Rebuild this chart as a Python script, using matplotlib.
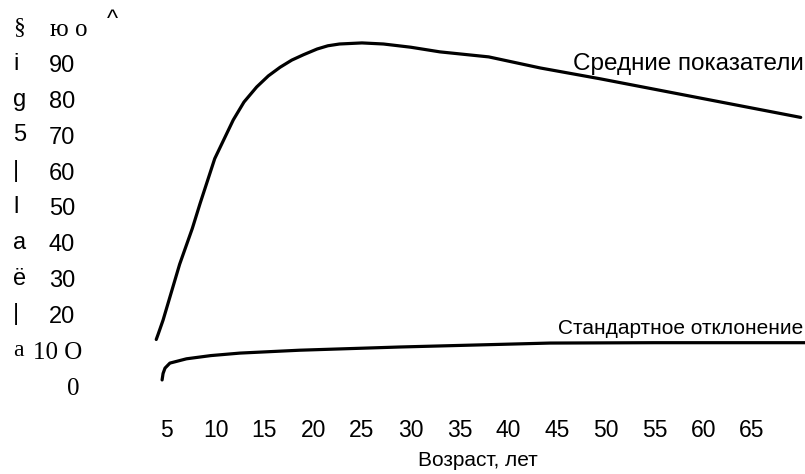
import matplotlib.pyplot as plt
import matplotlib.transforms as mtransforms

# data
mean_age = [3.9, 4.1, 4.6, 6.3, 7.6, 8.4, 9.9, 11.8, 12.9, 14.2, 15.4, 16.6,
            17.8, 19.0, 20.4, 21.5, 22.7, 25.0, 27.2, 30.0, 33.0, 38.0, 43.3,
            49.4, 59.7, 70.0]
mean_val = [13.0, 14.5, 18.4, 34.0, 44.0, 51.0, 63.5, 74.3, 79.3, 83.5, 86.6,
            89.0, 91.0, 92.5, 94.1, 95.0, 95.5, 95.8, 95.5, 94.6, 93.3, 91.9,
            88.8, 85.8, 80.4, 75.0]

std_age = [4.5, 4.6, 4.8, 5.3, 7.0, 9.5, 12.5, 18.6, 28.9, 44.3, 55.0, 70.5]
std_val = [1.7, 3.5, 5.0, 6.4, 7.6, 8.5, 9.2, 10.0, 10.9, 12.0, 12.1, 12.1]

x_ticks = [5, 10, 15, 20, 25, 30, 35, 40, 45, 50, 55, 60, 65]
y_ticks = [0, 10, 20, 30, 40, 50, 60, 70, 80, 90, 100]
y_labels = ["0", "10 O", "20", "30", "40", "50", "60", "70", "80", "90", "ю о"]
side_marks = ["", "a", "|", "ё", "a", "l", "|", "5", "g", "i", "§"]
serif_rows = [0, 10, 100]
# the scanned serif labels stick out a bit to the right (pixels)
serif_shift = {0: 5, 10: 7, 100: 13}

sans = "Liberation Sans"
serif = "Liberation Serif"

fig = plt.figure(figsize=(8.05, 4.74), dpi=100)
ax = fig.add_axes([150 / 805, 1 - 400 / 474, 655 / 805, 380 / 474])

ax.plot(mean_age, mean_val, color="black", lw=2.3, solid_capstyle="round",
        solid_joinstyle="round")
ax.plot(std_age, std_val, color="black", lw=2.3, solid_capstyle="round",
        solid_joinstyle="round")

ax.set_xlim(3.26, 70.44)
ax.set_ylim(-3.9, 102.2)

for s in ax.spines.values():
    s.set_visible(False)

ax.set_xticks(x_ticks)
ax.set_xticklabels([str(t) for t in x_ticks], fontsize=16.5, family=sans)
ax.tick_params(axis="x", length=0, pad=14)

ax.set_yticks(y_ticks)
ax.set_yticklabels(y_labels, fontsize=17, family=sans)
ax.tick_params(axis="y", length=0, pad=54)
for lab, v in zip(ax.get_yticklabels(), y_ticks):
    if v in serif_rows:
        lab.set_family(serif)
        lab.set_fontsize(18)
        off = mtransforms.ScaledTranslation(serif_shift[v] / 100, 0,
                                            fig.dpi_scale_trans)
        lab.set_transform(lab.get_transform() + off)

trans = mtransforms.blended_transform_factory(fig.transFigure, ax.transData)
for v, m in zip(y_ticks, side_marks):
    if m:
        fam = serif if v in serif_rows else sans
        ax.text(13 / 805, v, m, transform=trans, fontsize=17, family=fam,
                ha="left", va="center")
fig.text(107 / 805, 1 - 20 / 474, "^", fontsize=17, family=sans,
         ha="left", va="center")

ax.set_xlabel("Возраст, лет", fontsize=15, family=sans, labelpad=6)

ax.text(70.3, 88.3, "Средние показатели", fontsize=17.5, family=sans,
        ha="right", va="baseline")
ax.text(70.3, 14.6, "Стандартное отклонение", fontsize=15, family=sans,
        ha="right", va="baseline")

fig.savefig("out.png", dpi=100)
